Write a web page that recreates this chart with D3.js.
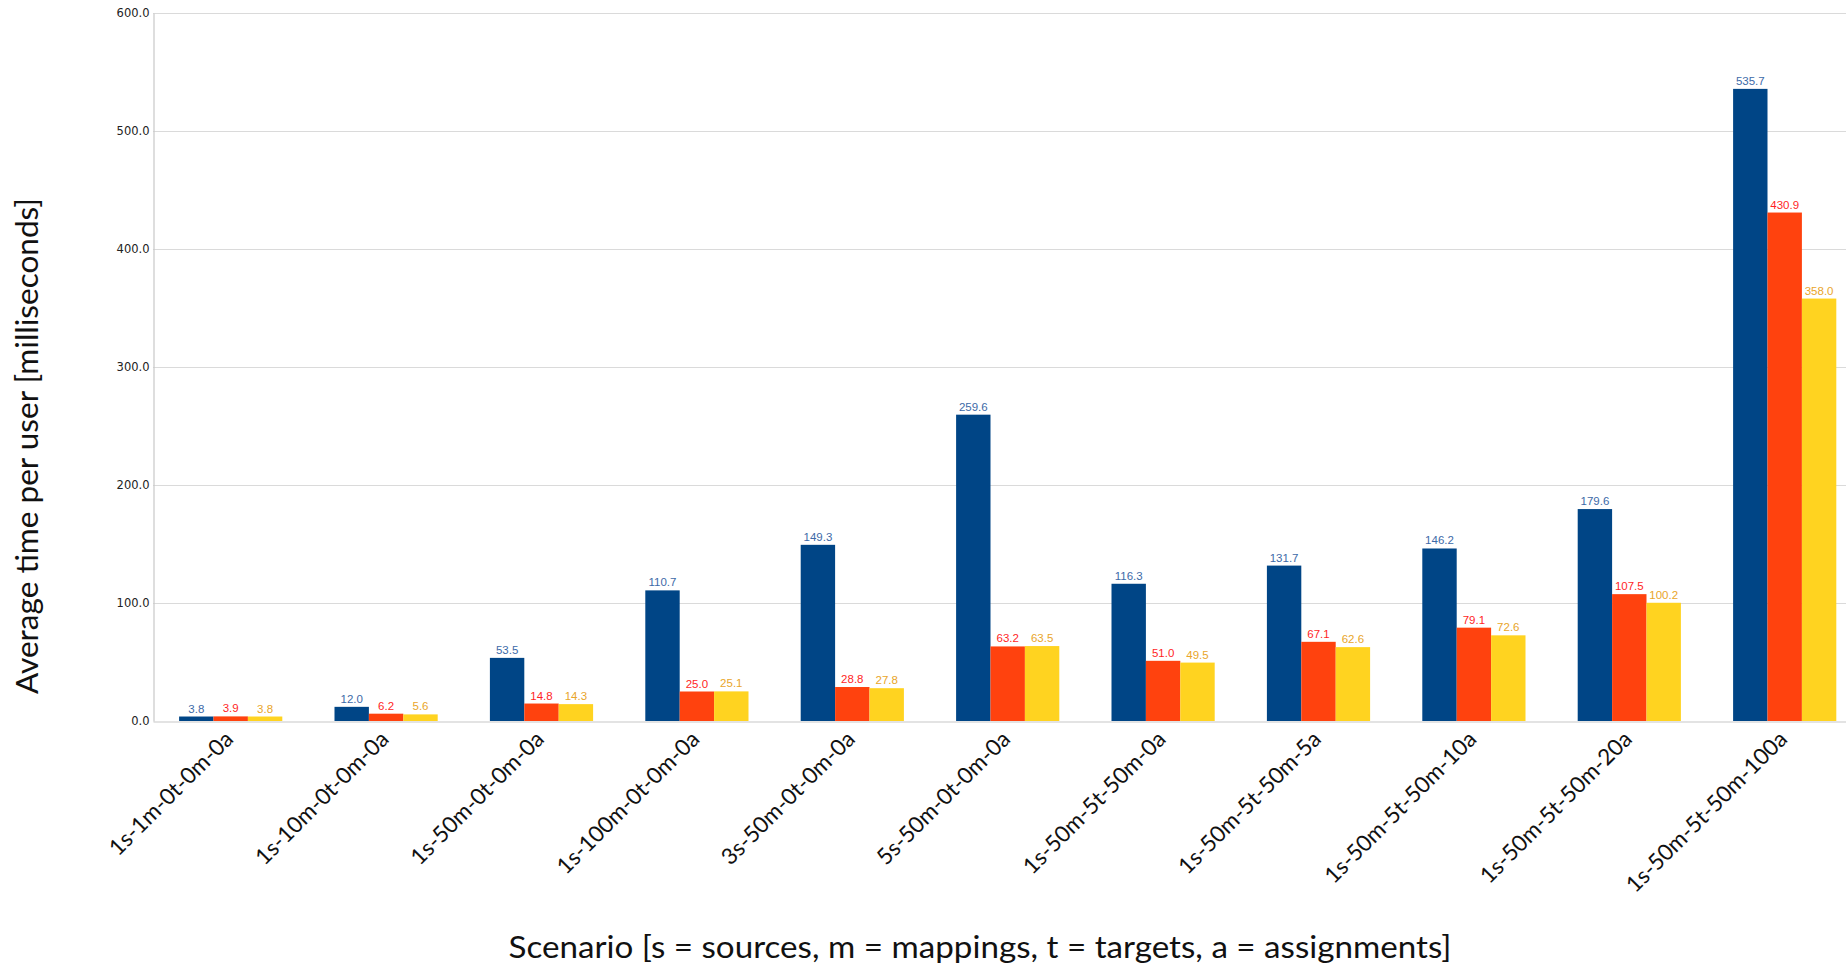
<!DOCTYPE html>
<html><head><meta charset="utf-8">
<script src="https://cdn.jsdelivr.net/npm/d3@7"></script>
<style>body{margin:0;background:#fff;overflow:hidden}svg{display:block}</style>
</head><body>
<svg id="c" width="1846" height="966"></svg>
<script>
const categories = ["1s-1m-0t-0m-0a","1s-10m-0t-0m-0a","1s-50m-0t-0m-0a","1s-100m-0t-0m-0a","3s-50m-0t-0m-0a","5s-50m-0t-0m-0a","1s-50m-5t-50m-0a","1s-50m-5t-50m-5a","1s-50m-5t-50m-10a","1s-50m-5t-50m-20a","1s-50m-5t-50m-100a"];
const seriesNames = ["Series 1","Series 2","Series 3"];
const series1 = [3.8,12.0,53.5,110.7,149.3,259.6,116.3,131.7,146.2,179.6,535.7];
const series2 = [3.9,6.2,14.8,25.0,28.8,63.2,51.0,67.1,79.1,107.5,430.9];
const series3 = [3.8,5.6,14.3,25.1,27.8,63.5,49.5,62.6,72.6,100.2,358.0];
const yTicks = [0,100,200,300,400,500,600];
const yTitle = "Average time per user [milliseconds]";
const xTitle = "Scenario [s = sources, m = mappings, t = targets, a = assignments]";

const barColors = ["#004586","#ff420e","#ffd320"];
const labelColors = ["#3d6aa8","#ff1f1f","#e9a52a"];
const seriesData = [series1,series2,series3];

const svg = d3.select("#c");
const mLeft = 153, mTop = 13, mBottom = 721, step = 155.4;
const x = d3.scaleBand().domain(categories).range([mLeft, mLeft + step*categories.length]).padding(0);
const gOuter = (step - 103.2)/2;
const xs = d3.scaleBand().domain(seriesNames).range([gOuter, step - gOuter]).padding(0);
const y = d3.scaleLinear().domain([0,600]).range([mBottom, mTop]);

// gridlines
svg.append("g").selectAll("line").data(yTicks.filter(d=>d>0)).join("line")
  .attr("x1", mLeft).attr("x2", 1846).attr("y1", d=>y(d)+0.5).attr("y2", d=>y(d)+0.5)
  .attr("stroke", "#dadada").attr("stroke-width", 1.2);

// y axis
const yAxis = d3.axisLeft(y).tickValues(yTicks).tickFormat(d3.format(".1f")).tickSize(0).tickPadding(4);
const ya = svg.append("g").attr("transform", `translate(${mLeft+0.5},0)`).call(yAxis);
ya.select(".domain").attr("stroke","#c8c8c8").attr("stroke-width",1.2);
ya.selectAll("text").attr("font-family","DejaVu Sans, Verdana, sans-serif").attr("font-size","11.5px").attr("fill","#222");

// bars
const groups = svg.append("g").selectAll("g").data(categories).join("g")
  .attr("transform", d=>`translate(${x(d)},0)`);
groups.selectAll("rect").data((c,i)=>seriesNames.map((s,j)=>({s, j, v: seriesData[j][i]}))).join("rect")
  .attr("x", d=>xs(d.s)).attr("width", xs.bandwidth())
  .attr("y", d=>y(d.v)).attr("height", d=>mBottom - y(d.v))
  .attr("fill", d=>barColors[d.j]);
groups.selectAll("text").data((c,i)=>seriesNames.map((s,j)=>({s, j, v: seriesData[j][i]}))).join("text")
  .attr("x", d=>xs(d.s)+xs.bandwidth()/2).attr("y", d=>y(d.v)-4)
  .attr("text-anchor","middle")
  .attr("font-family","Liberation Sans, Arial, sans-serif").attr("font-size","11.5px")
  .attr("fill", d=>labelColors[d.j])
  .text(d=>d3.format(".1f")(d.v));

// x axis
const xAxis = d3.axisBottom(x).tickSize(0).tickPadding(0);
const xa = svg.append("g").attr("transform", `translate(0,${mBottom+0.5})`).call(xAxis);
xa.select(".domain").attr("stroke","#c8c8c8").attr("stroke-width",1.2);
xa.selectAll(".tick text")
  .attr("font-family","Lato, Open Sans, sans-serif").attr("font-size","22.5px").attr("fill","#111")
  .attr("text-anchor","end").attr("dy","0")
  .attr("transform","translate(4,19) rotate(-45)");

// titles
svg.append("text").attr("transform","translate(38,446) rotate(-90)")
  .attr("text-anchor","middle").attr("font-family","Lato, Open Sans, sans-serif").attr("font-size","30px").attr("fill","#111")
  .attr("textLength", 496).attr("lengthAdjust","spacingAndGlyphs")
  .text(yTitle);
svg.append("text").attr("x",980).attr("y",958)
  .attr("text-anchor","middle").attr("font-family","Lato, Open Sans, sans-serif").attr("font-size","30px").attr("fill","#111")
  .attr("textLength", 943).attr("lengthAdjust","spacingAndGlyphs")
  .text(xTitle);
</script>
</body></html>
